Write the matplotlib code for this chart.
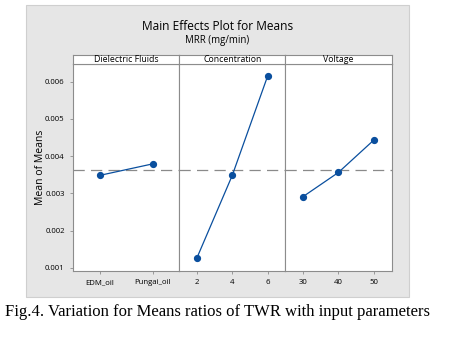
import numpy as np
import matplotlib.pyplot as plt
from matplotlib.patches import Rectangle

# datos
factors = ['Dielectric Fluids', 'Concentration', 'Voltage']
levels = [['EDM_oil', 'Pungai_oil'], ['2', '4', '6'], ['30', '40', '50']]
means = [[0.00348, 0.00379],
         [0.00126, 0.00348, 0.00615],
         [0.00291, 0.00356, 0.00443]]
grand_mean = 0.003617
yticks = [0.001, 0.002, 0.003, 0.004, 0.005, 0.006]

W, H = 451, 339
fig = plt.figure(figsize=(W / 100, H / 100), dpi=100)
fig.patch.set_facecolor('white')

# fondo gris tipo Minitab
bg = Rectangle((26 / W, 1 - 297 / H), 383 / W, 292 / H,
               transform=fig.transFigure, facecolor='#e6e6e6',
               edgecolor='#cfcfcf', linewidth=0.8, zorder=-10)
fig.add_artist(bg)

sans = ['Open Sans', 'DejaVu Sans']
cx = 217.5 / W
fig.text(cx, 1 - 26 / H, 'Main Effects Plot for Means',
         ha='center', va='center', fontsize=8.6, family=sans)
fig.text(cx, 1 - 41 / H, 'MRR (mg/min)',
         ha='center', va='center', fontsize=6.9, family=sans)

left = 73 / W
pw = (391.5 - 73) / 3 / W
bottom = 1 - 270.7 / H
ph = (270.7 - 64) / H
sh = 9.5 / H
gray = '#8c8c8c'
blue = '#0a4f9e'

for i in range(3):
    ax = fig.add_axes([left + i * pw, bottom, pw, ph])
    x = np.arange(len(levels[i]))
    ax.plot(x, means[i], '-o', color=blue, lw=0.9, ms=4.2, zorder=3)
    ax.axhline(grand_mean, color='#8a8a8a', lw=0.9, ls=(0, (9, 5)), zorder=2)
    ax.set_xlim(-0.5, len(levels[i]) - 0.5)
    ax.set_ylim(0.00092, 0.006474)
    ax.set_xticks(x)
    ax.set_xticklabels(levels[i], fontsize=5.6, family=sans)
    ax.set_yticks(yticks)
    if i == 0:
        ax.set_yticklabels(['%.3f' % v for v in yticks], fontsize=5.6, family=sans)
        ax.set_ylabel('Mean of Means', fontsize=7.5, family=sans)
        ax.yaxis.set_label_coords(-0.255, 0.5)
    else:
        ax.tick_params(axis='y', left=False, labelleft=False)
    ax.tick_params(length=2, width=0.6, color=gray, pad=4)
    for s in ax.spines.values():
        s.set_color(gray)
        s.set_linewidth(0.8)

    sx = fig.add_axes([left + i * pw, bottom + ph, pw, sh])
    sx.set_xticks([])
    sx.set_yticks([])
    for s in sx.spines.values():
        s.set_color(gray)
        s.set_linewidth(0.8)
    sx.text(0.5, 0.45, factors[i], ha='center', va='center', fontsize=6.3,
            family=sans, transform=sx.transAxes)

fig.text(5 / W, 1 - 312 / H,
         'Fig.4. Variation for Means ratios of TWR with input parameters',
         ha='left', va='center', fontsize=12, family='Liberation Serif')

plt.savefig('out.png', dpi=100)
